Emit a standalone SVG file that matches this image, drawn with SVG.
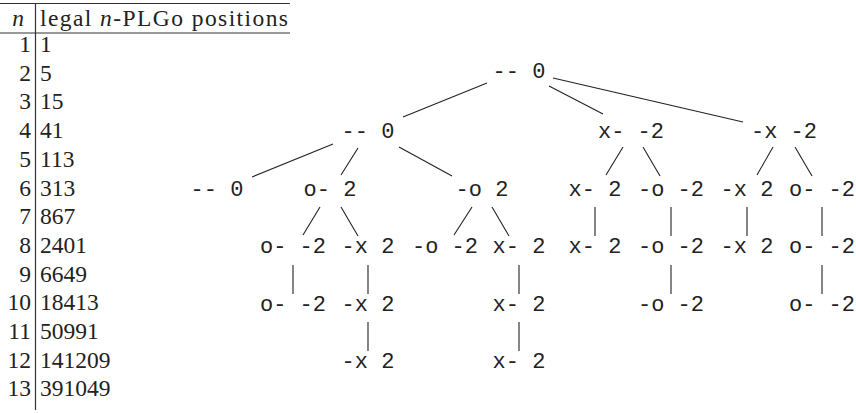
<svg xmlns="http://www.w3.org/2000/svg" width="856" height="413" viewBox="0 0 856 413">
<style>
.t{font-family:"Liberation Serif","Times New Roman",serif;font-size:23.5px;fill:#222}
.n{text-anchor:end}
.m{font-family:"Liberation Mono","Courier New",monospace;font-size:22px;fill:#222;text-anchor:middle;white-space:pre}
.r{stroke:#333;stroke-width:1.2;fill:none}
.e{stroke:#222;stroke-width:1.1;fill:none}
</style>
<rect width="856" height="413" fill="#fff"/>
<g id="table">
<line class="r" x1="0" y1="3.5" x2="290" y2="3.5"/>
<line class="r" x1="0" y1="33" x2="290" y2="33"/>
<line class="r" x1="35.5" y1="3.5" x2="35.5" y2="410"/>
<text class="t" x="18" y="26" text-anchor="middle" font-style="italic">n</text>
<text class="t" x="40" y="26" textLength="248" lengthAdjust="spacing">legal <tspan font-style="italic">n</tspan>-PLGo positions</text>
<text class="t n" x="31" y="52">1</text><text class="t" x="40" y="52">1</text>
<text class="t n" x="31" y="80.7">2</text><text class="t" x="40" y="80.7">5</text>
<text class="t n" x="31" y="109.4">3</text><text class="t" x="40" y="109.4">15</text>
<text class="t n" x="31" y="138.1">4</text><text class="t" x="40" y="138.1">41</text>
<text class="t n" x="31" y="166.8">5</text><text class="t" x="40" y="166.8">113</text>
<text class="t n" x="31" y="195.5">6</text><text class="t" x="40" y="195.5">313</text>
<text class="t n" x="31" y="224.2">7</text><text class="t" x="40" y="224.2">867</text>
<text class="t n" x="31" y="252.9">8</text><text class="t" x="40" y="252.9">2401</text>
<text class="t n" x="31" y="281.6">9</text><text class="t" x="40" y="281.6">6649</text>
<text class="t n" x="31" y="310.3">10</text><text class="t" x="40" y="310.3">18413</text>
<text class="t n" x="31" y="339">11</text><text class="t" x="40" y="339">50991</text>
<text class="t n" x="31" y="367.7">12</text><text class="t" x="40" y="367.7">141209</text>
<text class="t n" x="31" y="396.4">13</text><text class="t" x="40" y="396.4">391049</text>
</g>
<g id="edges">
<line class="e" x1="487" y1="83" x2="403" y2="117"/>
<line class="e" x1="549" y1="86" x2="603" y2="114"/>
<line class="e" x1="553" y1="78" x2="743" y2="122"/>
<line class="e" x1="333" y1="144" x2="252" y2="177"/>
<line class="e" x1="358" y1="148" x2="341" y2="175"/>
<line class="e" x1="399" y1="147" x2="452" y2="176"/>
<line class="e" x1="623" y1="147" x2="606" y2="175"/>
<line class="e" x1="643" y1="147" x2="660" y2="176"/>
<line class="e" x1="773" y1="147" x2="757" y2="175"/>
<line class="e" x1="795" y1="147" x2="812" y2="176"/>
<line class="e" x1="320" y1="207" x2="303" y2="235"/>
<line class="e" x1="341" y1="207" x2="358" y2="236"/>
<line class="e" x1="472" y1="207" x2="454" y2="235"/>
<line class="e" x1="492" y1="207" x2="509" y2="236"/>
<line class="e" x1="595" y1="207" x2="595" y2="236"/>
<line class="e" x1="671" y1="207" x2="671" y2="236"/>
<line class="e" x1="747" y1="207" x2="747" y2="236"/>
<line class="e" x1="822" y1="207" x2="822" y2="236"/>
<line class="e" x1="293" y1="265" x2="293" y2="294"/>
<line class="e" x1="368" y1="265" x2="368" y2="294"/>
<line class="e" x1="519" y1="265" x2="519" y2="294"/>
<line class="e" x1="671" y1="265" x2="671" y2="294"/>
<line class="e" x1="822" y1="265" x2="822" y2="294"/>
<line class="e" x1="368" y1="322" x2="368" y2="351"/>
<line class="e" x1="519" y1="322" x2="519" y2="351"/>
</g>
<g id="n0"><text class="m" x="519" y="78">-- 0</text></g>
<g id="n1"><text class="m" x="368" y="138">-- 0</text></g>
<g id="n2"><text class="m" x="631" y="138">x- -2</text></g>
<g id="n3"><text class="m" x="784" y="138">-x -2</text></g>
<g id="n4"><text class="m" x="217" y="196">-- 0</text></g>
<g id="n5"><text class="m" x="330" y="196">o- 2</text></g>
<g id="n6"><text class="m" x="482" y="196">-o 2</text></g>
<g id="n7"><text class="m" x="595" y="196">x- 2</text></g>
<g id="n8"><text class="m" x="671" y="196">-o -2</text></g>
<g id="n9"><text class="m" x="747" y="196">-x 2</text></g>
<g id="n10"><text class="m" x="822" y="196">o- -2</text></g>
<g id="n11"><text class="m" x="293" y="253">o- -2</text></g>
<g id="n12"><text class="m" x="368" y="253">-x 2</text></g>
<g id="n13"><text class="m" x="445" y="253">-o -2</text></g>
<g id="n14"><text class="m" x="519" y="253">x- 2</text></g>
<g id="n15"><text class="m" x="595" y="253">x- 2</text></g>
<g id="n16"><text class="m" x="671" y="253">-o -2</text></g>
<g id="n17"><text class="m" x="747" y="253">-x 2</text></g>
<g id="n18"><text class="m" x="822" y="253">o- -2</text></g>
<g id="n19"><text class="m" x="293" y="311">o- -2</text></g>
<g id="n20"><text class="m" x="368" y="311">-x 2</text></g>
<g id="n21"><text class="m" x="519" y="311">x- 2</text></g>
<g id="n22"><text class="m" x="671" y="311">-o -2</text></g>
<g id="n23"><text class="m" x="822" y="311">o- -2</text></g>
<g id="n24"><text class="m" x="368" y="368">-x 2</text></g>
<g id="n25"><text class="m" x="519" y="368">x- 2</text></g>
</svg>
